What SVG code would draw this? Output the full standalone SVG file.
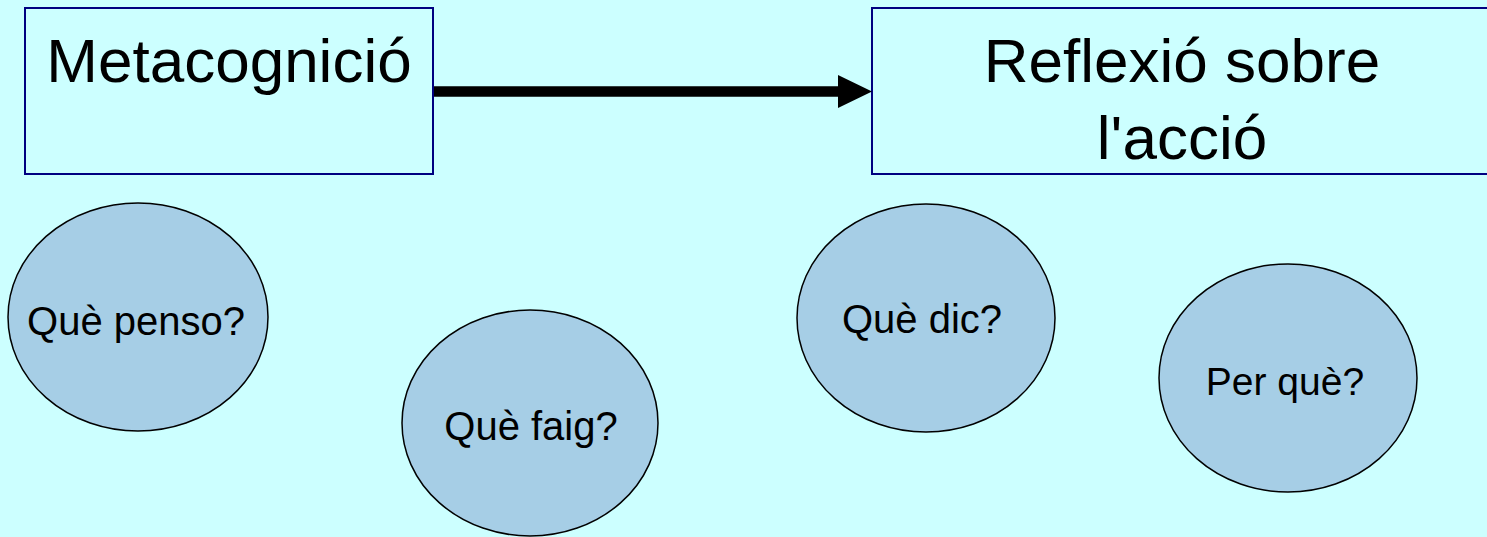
<svg xmlns="http://www.w3.org/2000/svg" width="1487" height="537" viewBox="0 0 1487 537">
<defs>
<style>
.box{fill:#CCFFFF;stroke:#000080;stroke-width:2}
.ell{fill:#A6CEE6;stroke:#000000;stroke-width:1.5}
.big{font-family:"Liberation Sans",Arial,sans-serif;font-size:62px;fill:#000;text-anchor:middle}
.sm{font-family:"Liberation Sans",Arial,sans-serif;font-size:40px;fill:#000;text-anchor:middle}
</style>
</defs>
<rect x="0" y="0" width="1487" height="537" fill="#CCFFFF"/>
<g id="node-metacognicio">
<rect class="box" x="25" y="8" width="408" height="166"/>
<text class="big" x="229" y="82">Metacognició</text>
</g>
<g id="node-reflexio">
<rect class="box" x="872" y="8" width="620" height="166"/>
<text class="big" x="1182" y="82">Reflexió sobre</text>
<text class="big" x="1182" y="159">l'acció</text>
</g>
<g id="node-que-penso">
<ellipse class="ell" cx="138" cy="317" rx="130" ry="114"/>
<text class="sm" x="136" y="335">Què penso?</text>
</g>
<g id="node-que-faig">
<ellipse class="ell" cx="530" cy="423" rx="128" ry="113"/>
<text class="sm" x="531" y="440">Què faig?</text>
</g>
<g id="node-que-dic">
<ellipse class="ell" cx="926" cy="318" rx="129" ry="114"/>
<text class="sm" x="922" y="333">Què dic?</text>
</g>
<g id="node-per-que">
<ellipse class="ell" cx="1288" cy="378" rx="129" ry="114"/>
<text class="sm" x="1285" y="395" style="font-size:39px">Per què?</text>
</g>
<g id="connectors">
<line x1="434" y1="91.5" x2="840" y2="91.5" stroke="#000" stroke-width="10.5"/>
<polygon points="838,75 872,91.5 838,108" fill="#000"/>
</g>
</svg>
